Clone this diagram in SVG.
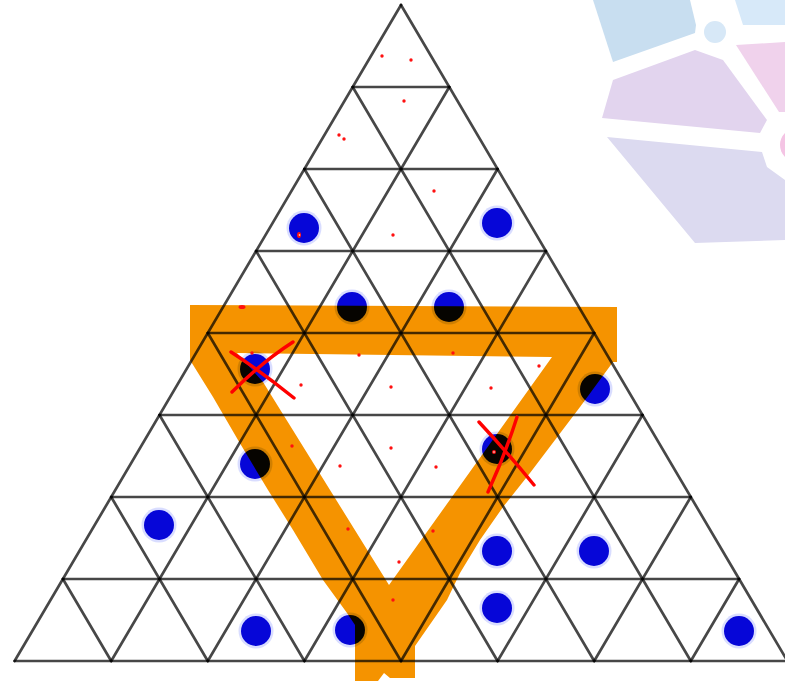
<svg xmlns="http://www.w3.org/2000/svg" width="785" height="686" viewBox="0 0 785 686">
<style>
.g{fill:none;stroke:#000;stroke-opacity:0.72;stroke-width:2.7;stroke-linecap:round}
.halo{fill:#aab4ff;fill-opacity:0.45}
.dot{fill:#0606d8}
.rd{fill:#ff1010}
.x{fill:none;stroke:#ff0000;stroke-width:3.4;stroke-linecap:round}
</style>
<defs>
<g id="blue"><circle r="17.5" class="halo"/><circle r="15" class="dot"/></g>
</defs>
<rect width="785" height="686" fill="#ffffff"/>
<g id="logo">
<polygon points="593,0 690,0 696,25 695,33 613,62" fill="#c8def0"/>
<circle cx="715" cy="32" r="11" fill="#d7e8f7"/>
<polygon points="735,0 785,0 785,25 743,25" fill="#d7e9f9"/>
<polygon points="736,45 785,42 785,112 779,112" fill="#f0d2ec"/>
<polygon points="613,80 695,50 723,60 767,120 760,133 602,118" fill="#e2d4ee"/>
<polygon points="607,137 762,152 767,167 785,180 785,240 695,243" fill="#dcdaf0"/>
<circle cx="797" cy="145" r="17" fill="#f4c4e4"/>
</g>
<g id="grid">
<path class="g" d="M352.7 87H449.3M304.4 169H497.6M256.1 251H545.9M207.8 333H594.2M159.5 415H642.5M111.2 497H690.8M62.9 579H739.1M14.6 661H787.4"/>
<path class="g" d="M401 5L14.6 661M449.3 87L111.2 661M497.6 169L207.8 661M545.9 251L304.4 661M594.2 333L401 661M642.5 415L497.6 661M690.8 497L594.2 661M739.1 579L690.8 661"/>
<path class="g" d="M401 5L787.4 661M352.7 87L690.8 661M304.4 169L594.2 661M256.1 251L497.6 661M207.8 333L401 661M159.5 415L304.4 661M111.2 497L207.8 661M62.9 579L111.2 661"/>
</g>
<g id="counters">
<use href="#blue" x="304" y="228"/>
<use href="#blue" x="497" y="223"/>
<use href="#blue" x="352" y="307"/>
<use href="#blue" x="449" y="307"/>
<use href="#blue" x="255" y="369"/>
<use href="#blue" x="595" y="389"/>
<use href="#blue" x="255" y="464"/>
<use href="#blue" x="497" y="449"/>
<use href="#blue" x="159" y="525"/>
<use href="#blue" x="497" y="551"/>
<use href="#blue" x="594" y="551"/>
<use href="#blue" x="497" y="608"/>
<use href="#blue" x="256" y="631"/>
<use href="#blue" x="350" y="630"/>
<use href="#blue" x="739" y="631"/>
</g>
<g id="band" style="mix-blend-mode:multiply">
<path fill="#f59300" fill-rule="evenodd" d="M190 305L617 307L617 362L613 362L580 407L555 440L530 473L503 507L480 540L460 573L447 600L415 646L415 678L390 678L384 673L378 681L355 681L355 625L347 613L323 580L293 530L268 490L238 440L213 397L190 360Z M237 353L552 357L389 585L263 382Z"/>
</g>
<g id="marks">
<ellipse cx="242" cy="307" rx="3.5" ry="2" class="rd"/>
<ellipse cx="299" cy="235" rx="2" ry="3" class="rd"/>
<circle cx="299.5" cy="235" r="0.8" fill="#fff"/>
<circle cx="382" cy="56" r="1.7" class="rd"/>
<circle cx="411" cy="60" r="1.7" class="rd"/>
<circle cx="404" cy="101" r="1.7" class="rd"/>
<circle cx="339" cy="135" r="1.7" class="rd"/>
<circle cx="344" cy="139" r="1.7" class="rd"/>
<circle cx="434" cy="191" r="1.7" class="rd"/>
<circle cx="393" cy="235" r="1.7" class="rd"/>
<circle cx="252" cy="353" r="1.7" class="rd"/>
<circle cx="359" cy="355" r="1.7" class="rd"/>
<circle cx="453" cy="353" r="1.7" class="rd"/>
<circle cx="539" cy="366" r="1.7" class="rd"/>
<circle cx="301" cy="385" r="1.7" class="rd"/>
<circle cx="391" cy="387" r="1.7" class="rd"/>
<circle cx="491" cy="388" r="1.7" class="rd"/>
<circle cx="292" cy="446" r="1.7" class="rd"/>
<circle cx="391" cy="448" r="1.7" class="rd"/>
<circle cx="340" cy="466" r="1.7" class="rd"/>
<circle cx="436" cy="467" r="1.7" class="rd"/>
<circle cx="494" cy="452" r="2" class="rd"/>
<circle cx="494" cy="452" r="0.8" fill="#fff"/>
<circle cx="348" cy="529" r="1.7" class="rd"/>
<circle cx="433" cy="531" r="1.7" class="rd"/>
<circle cx="399" cy="562" r="1.7" class="rd"/>
<circle cx="393" cy="600" r="1.7" class="rd"/>
<path class="x" d="M231 352Q262 372 294 398M232 392Q262 362 293 342"/>
<path class="x" d="M479 422Q507 452 534 485M517 417Q505 455 488 492"/>
</g>
</svg>
